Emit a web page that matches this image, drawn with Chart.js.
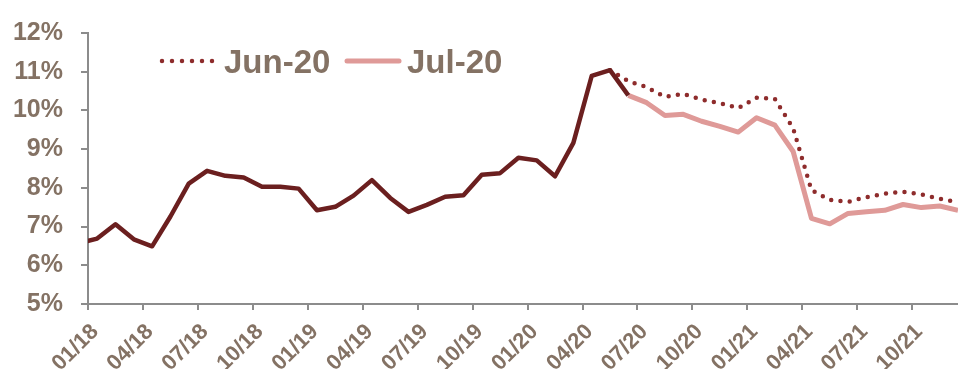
<!DOCTYPE html>
<html>
<head>
<meta charset="utf-8">
<script src="https://cdn.jsdelivr.net/npm/chart.js@4/dist/chart.umd.min.js"></script>
<style>
  html, body { margin: 0; padding: 0; background: #fff; }
  #wrap { width: 958px; height: 369px; }
</style>
</head>
<body>
<div id="wrap"><canvas id="rateChart" width="958" height="369"></canvas></div>
<script>
// monthly rates (%), each series starts at a month index counted from Jan 2018
const actualStart = -1;   // Dec 2017
const actual = [6.57,
  6.69, 7.06, 6.67, 6.49, 7.26, 8.11, 8.44, 8.31, 8.27, 8.03, 8.03, 7.98,
  7.42, 7.51, 7.80, 8.20, 7.74, 7.38, 7.56, 7.77, 7.81, 8.34, 8.38, 8.78,
  8.71, 8.30, 9.16, 10.89, 11.04, 10.39];

const jun20Start = 28;    // May 2020
const jun20 = [11.04, 10.76, 10.60, 10.35, 10.43, 10.28, 10.19, 10.06,
  10.33, 10.30, 9.54, 7.94, 7.69, 7.64, 7.76, 7.85, 7.90, 7.83, 7.72, 7.63];

const jul20Start = 29;    // Jun 2020
const jul20 = [10.39, 10.20, 9.87, 9.90, 9.72, 9.59, 9.44,
  9.81, 9.62, 8.94, 7.21, 7.07, 7.34, 7.38, 7.42, 7.57, 7.49, 7.53, 7.42];

const tickLabels = ['01/18', '04/18', '07/18', '10/18', '01/19', '04/19', '07/19', '10/19',
  '01/20', '04/20', '07/20', '10/20', '01/21', '04/21', '07/21', '10/21'];

const FONT = '"Liberation Sans", Arial, sans-serif';
const TEXT = '#847264';
const AXIS = '#8c8c8c';

// points sit mid-month
function toPoints(start, values) {
  return values.map((v, i) => ({ x: start + i + 0.5, y: v }));
}

// legend drawn inside the plot area
const inlineLegend = {
  id: 'inlineLegend',
  afterDraw(chart, args, opts) {
    const ctx = chart.ctx;
    ctx.save();
    opts.items.forEach(item => {
      const ds = chart.data.datasets[item.dataset];
      ctx.beginPath();
      ctx.strokeStyle = ds.borderColor;
      ctx.lineWidth = ds.borderWidth;
      ctx.lineCap = 'round';
      ctx.setLineDash(ds.borderDash ? [0, 10] : []);
      ctx.moveTo(item.x, opts.y);
      ctx.lineTo(item.x + opts.sample, opts.y);
      ctx.stroke();
      ctx.setLineDash([]);
      ctx.fillStyle = TEXT;
      ctx.font = 'bold 33px ' + FONT;
      ctx.textBaseline = 'alphabetic';
      ctx.fillText(ds.label, item.x + opts.sample + item.gap, opts.y + 12);
    });
    ctx.restore();
  }
};

const cht = document.getElementById('rateChart').getContext('2d');

const rateChart = new Chart(cht, {
  type: 'line',
  data: {
    datasets: [
      {
        label: 'Actual',
        data: toPoints(actualStart, actual),
        borderColor: '#6b1f1f',
        borderWidth: 4.5,
        borderJoinStyle: 'round',
        pointRadius: 0,
        clip: { left: 0, top: false, right: false, bottom: false }
      },
      {
        label: 'Jun-20',
        data: toPoints(jun20Start, jun20),
        borderColor: '#8e2c2c',
        borderWidth: 4.5,
        borderDash: [0, 9.3],
        borderCapStyle: 'round',
        pointRadius: 0
      },
      {
        label: 'Jul-20',
        data: toPoints(jul20Start, jul20),
        borderColor: '#df9a98',
        borderWidth: 5,
        borderJoinStyle: 'round',
        pointRadius: 0
      }
    ]
  },
  options: {
    responsive: false,
    animation: false,
    layout: { padding: { top: 24, right: 0, bottom: 0, left: 0 } },
    plugins: {
      legend: { display: false },
      tooltip: { enabled: false },
      inlineLegend: {
        y: 61,
        sample: 52,
        items: [
          { dataset: 1, x: 162, gap: 10 },
          { dataset: 2, x: 347, gap: 8 }
        ]
      }
    },
    scales: {
      x: {
        type: 'linear',
        min: 0,
        max: 47.5,
        afterFit: s => { s.height = 65; },
        border: { color: AXIS, width: 2 },
        grid: { drawOnChartArea: false, tickLength: 6, color: AXIS, lineWidth: 2 },
        ticks: {
          stepSize: 3,
          autoSkip: false,
          includeBounds: false,
          minRotation: 45,
          maxRotation: 45,
          padding: 9,
          labelOffset: 7,
          color: TEXT,
          font: { family: FONT, size: 22, weight: 'bold' },
          callback: v => tickLabels[v / 3]
        }
      },
      y: {
        min: 5,
        max: 12,
        afterFit: s => { s.width = 88; },
        border: { color: AXIS, width: 2 },
        grid: { drawOnChartArea: false, tickLength: 7, color: AXIS, lineWidth: 2 },
        ticks: {
          stepSize: 1,
          padding: 18,
          color: TEXT,
          font: { family: FONT, size: 25, weight: 'bold' },
          callback: v => v + '%'
        }
      }
    }
  },
  plugins: [inlineLegend]
});
</script>
</body>
</html>
